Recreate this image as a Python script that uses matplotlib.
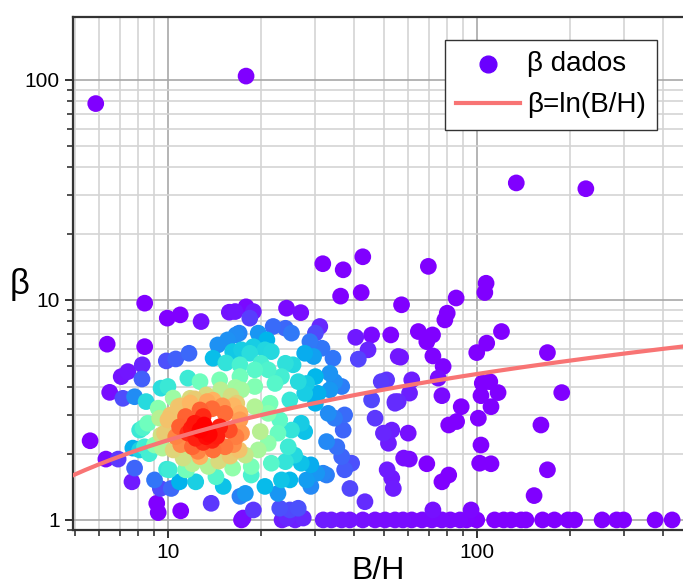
import numpy as np
import matplotlib
matplotlib.use("Agg")
import matplotlib.pyplot as plt

plt.rcParams['font.family'] = ['Liberation Sans', 'DejaVu Sans']

# ---- data ----
bh_outliers = [5.84, 17.9, 134, 225]
beta_outliers = [78, 104, 34, 32]

bh_a = [8.41, 9.95, 10.96, 12.8, 15.8, 6.36, 8.41, 9.88, 10.6, 11.7, 8.26, 7.42, 7.06, 8.24, 6.48,
        14.0, 14.5, 15.6, 16.6, 11.6, 12.7, 10.0, 9.5, 7.15, 7.8, 8.5, 14.7, 16.2, 17.1, 11.8, 13.3,
        15.4, 17.1, 10.4, 12.2, 14.0, 16.0, 11.0, 14.8, 16.5]
beta_a = [9.66, 8.26, 8.55, 7.97, 8.79, 6.29, 6.13, 5.28, 5.39, 5.72, 5.07, 4.72, 4.48, 4.37, 3.80,
          5.43, 6.24, 6.58, 6.93, 4.41, 4.25, 4.04, 3.97, 3.57, 3.63, 3.45, 4.33, 5.82, 5.07, 3.57, 3.70,
          5.17, 4.48, 3.58, 3.55, 3.50, 3.65, 3.30, 3.90, 4.00]

bh_b = [5.6, 6.3, 6.9, 7.7, 8.1, 8.6, 9.3, 9.05, 8.4, 9.5, 7.8, 7.65, 9.05, 9.45, 10.25, 9.2, 9.3, 11.0,
        13.8, 9.9, 11.4, 10.9, 12.3, 9.6, 10.8, 12.7, 15.3, 17.1, 8.3, 9.75, 10.6, 11.6, 12.7, 13.3, 12.0,
        14.0, 15.3, 14.7, 15.8, 10.4, 12.7, 11.2, 10.1, 11.5, 16.2, 14.3, 15.1, 17.1, 17.3, 8.7, 8.1, 16.6,
        17.1, 12.3, 13.0, 11.9, 13.6, 12.5, 11.0, 13.9, 12.2, 13.1, 14.4, 10.9, 11.4, 13.0, 12.0, 14.6,
        13.5, 15.9, 16.3, 10.0, 9.4, 10.2, 13.9, 15.0, 11.8, 13.4, 16.3]
beta_b = [2.29, 1.89, 1.89, 2.12, 2.56, 2.75, 3.22, 2.19, 2.15, 2.43, 1.72, 1.49, 1.52, 1.39, 1.39, 1.19,
          1.08, 1.10, 1.19, 1.70, 1.69, 1.49, 1.49, 2.12, 3.27, 3.16, 3.05, 3.05, 2.62, 2.48, 2.39, 2.48,
          2.56, 2.39, 2.15, 2.08, 2.15, 2.65, 2.56, 2.08, 1.94, 1.91, 1.69, 1.69, 1.72, 1.57, 1.42, 1.28,
          1.00, 2.00, 2.08, 2.39, 2.85, 2.35, 2.25, 2.60, 2.45, 2.05, 2.20, 2.30, 2.75, 2.70, 2.40, 2.65,
          2.95, 2.95, 1.80, 1.85, 1.75, 1.95, 2.20, 2.85, 2.90, 3.00, 3.20, 3.30, 3.40, 3.45, 3.30]

bh_c = [17.0, 17.3, 17.8, 18.6, 19.6, 19.9, 21.1, 21.6, 20.6, 18.6, 17.8, 22.7, 23.0, 21.1, 19.1, 21.4,
        25.1, 24.5, 25.7, 27.0, 24.0, 23.3, 24.8, 22.7, 18.9, 17.5, 23.0, 24.8, 26.4, 24.3, 27.4, 28.1,
        29.0, 30.3, 31.8, 29.0, 27.0, 27.7, 30.0, 33.0, 34.6, 37.3, 36.9, 32.6, 35.2, 36.5, 39.3, 37.3,
        32.6, 38.8, 43.4, 31.8, 33.8, 36.5, 38.8, 42.7, 46.8, 50.4, 54.3, 57.6, 46.8, 49.8, 53.0, 51.7,
        51.2, 53.0, 53.6, 54.3, 57.9, 23.4, 25.8]
beta_c = [2.08, 2.48, 1.97, 1.75, 2.08, 2.52, 2.23, 1.81, 1.42, 1.60, 1.32, 2.48, 2.85, 3.05, 3.27, 3.39,
          2.56, 2.15, 1.97, 1.81, 1.84, 1.52, 1.52, 1.32, 1.11, 1.02, 1.13, 1.11, 1.13, 1.02, 1.02, 1.52,
          1.42, 1.63, 1.63, 1.78, 2.75, 2.52, 3.39, 3.05, 2.90, 3.00, 2.56, 2.27, 2.15, 1.94, 1.81, 1.69,
          1.60, 1.39, 1.21, 1.00, 1.00, 1.00, 1.00, 1.00, 1.00, 1.00, 1.00, 1.00, 2.90, 2.48, 2.56, 2.23,
          1.69, 1.55, 1.39, 3.39, 1.91, 1.00, 1.00]

bh_d = [31.7, 36.9, 42.7, 36.2, 42.2, 57.0, 17.9, 18.9, 18.4, 24.2, 26.9, 16.5, 21.9, 24.0, 25.1, 31.0,
        30.0, 19.6, 20.9, 28.8, 31.5, 21.6, 17.0, 34.2, 40.5, 45.6, 52.6, 44.4, 41.3, 55.6, 27.7, 29.6,
        24.0, 25.4, 20.0, 18.4, 17.3, 18.9, 20.6, 30.0, 26.4, 28.1, 23.3, 22.2, 33.4, 34.6, 36.5, 33.4,
        30.6, 27.7, 24.8, 49.0, 51.0, 45.6, 54.3, 21.1, 19.1, 17.3, 19.1, 16.7]
beta_d = [14.6, 13.7, 15.7, 10.4, 10.8, 9.5, 9.3, 8.85, 8.26, 9.17, 8.75, 8.85, 7.57, 7.43, 7.06, 7.57,
          7.06, 7.06, 6.58, 6.46, 6.03, 5.82, 7.06, 5.43, 6.76, 6.93, 6.93, 5.93, 5.38, 5.53, 5.72, 5.53,
          5.15, 5.07, 5.15, 5.72, 5.93, 6.13, 5.93, 4.48, 4.25, 4.17, 4.48, 4.17, 4.64, 4.25, 4.04, 3.90,
          3.76, 3.76, 3.51, 4.25, 4.33, 3.51, 3.45, 4.81, 4.81, 3.90, 4.04, 3.39]

bh_e = [69.6, 107, 106, 85.6, 80.1, 78.7, 64.6, 71.8, 68.8, 120, 107.5, 99.8, 56.6, 72.0, 169, 77.7,
        61.5, 60.5, 74.9, 55.6, 77.0, 88.9, 104, 110, 117, 103, 111, 188]
beta_e = [14.2, 11.9, 10.8, 10.2, 8.7, 8.11, 7.18, 6.93, 6.46, 7.18, 6.36, 5.76, 5.49, 5.56, 5.76, 4.98,
          4.33, 3.77, 4.41, 3.45, 3.67, 3.27, 4.18, 4.25, 3.79, 3.67, 3.27, 3.79]

bh_f = [59.9, 81, 85.9, 101, 103, 102, 111, 161, 169, 153, 60.4, 68.8, 81, 77, 72.0, 95.7]
beta_f = [2.48, 2.70, 2.80, 2.90, 2.19, 1.81, 1.80, 2.70, 1.69, 1.29, 1.89, 1.80, 1.60, 1.49, 1.11, 1.11]

bh_row = [61.5, 66.4, 71.5, 77, 82, 88.1, 92.5, 99.8, 114, 122, 129, 139, 144, 163, 178, 197, 207,
          254, 283, 298, 377, 428]
beta_row = [1.0] * len(bh_row)

# ---- assemble ----
bh = np.array(bh_outliers + bh_a + bh_b + bh_c + bh_d + bh_e + bh_f + bh_row, dtype=float)
beta = np.array(beta_outliers + beta_a + beta_b + beta_c + beta_d + beta_e + beta_f + beta_row, dtype=float)

# point density (gaussian KDE in log space, Scott bandwidth) for colouring
lx, ly = np.log10(bh), np.log10(beta)
X = np.vstack([lx, ly])
n = X.shape[1]
fac = n ** (-1.0 / 6.0)
inv = np.linalg.inv(np.cov(X) * fac ** 2)
diff = X[:, :, None] - X[:, None, :]
m = np.einsum('ijk,il,ljk->jk', diff, inv, diff)
dens = np.exp(-0.5 * m).sum(axis=1)
dens = dens / dens.max()
cval = np.clip((dens - 0.25) / 0.75, 0, 1) ** 1.5
order = np.argsort(cval, kind='stable')
bh, beta, cval = bh[order], beta[order], cval[order]

fig = plt.figure(figsize=(6.83, 5.86), dpi=100)
ax = fig.add_axes([73 / 683, 1 - 530 / 586, 610 / 683, 513 / 586])
ax.set_xscale('log')
ax.set_yscale('log')
ax.set_xlim(4.93, 464)
ax.set_ylim(0.9, 193)

ax.grid(True, which='major', color='#a8a8a8', lw=1.2, zorder=0)
ax.grid(True, which='minor', color='#d4d4d4', lw=1.2, zorder=0)
ax.set_axisbelow(True)

ax.scatter(bh, beta, c=cval, cmap='rainbow', vmin=0, vmax=1, s=145, edgecolors='none', zorder=2)

xx = np.geomspace(4.93, 464, 200)
ax.plot(xx, np.log(xx), color='#f87474', lw=3, zorder=3, label='β=ln(B/H)')
ax.scatter([], [], s=145, color='#6a00ff', label='β dados')

ax.spines['right'].set_visible(False)
for side in ['left', 'bottom', 'top']:
    ax.spines[side].set_color('#333333')
    ax.spines[side].set_linewidth(1.6)

ax.tick_params(which='major', direction='out', length=6, width=1.4, color='#333333',
               labelsize=15, top=False, right=False)
ax.tick_params(which='minor', direction='out', length=4, width=1.2, color='#333333',
               top=False, right=False)
ax.set_xticks([10, 100])
ax.set_xticklabels(['10', '100'])
ax.set_yticks([1, 10, 100])
ax.set_yticklabels(['1', '10', '100'])

ax.set_xlabel('B/H', fontsize=23)
ax.xaxis.set_label_coords(0.5, -0.05)
ax.set_ylabel('β', fontsize=25, rotation=0, va='center', ha='center')
ax.yaxis.set_label_coords(-0.087, 0.478)

handles, labels = ax.get_legend_handles_labels()
leg = ax.legend([handles[1], handles[0]], [labels[1], labels[0]], loc='upper right',
                bbox_to_anchor=(0.957, 0.955), borderaxespad=0, fontsize=20,
                fancybox=False, framealpha=1, edgecolor='#333333',
                handlelength=2.3, handletextpad=0.25, labelspacing=0.55, borderpad=0.4)
leg.get_frame().set_linewidth(1.0)

fig.savefig('out.png', dpi=100)
